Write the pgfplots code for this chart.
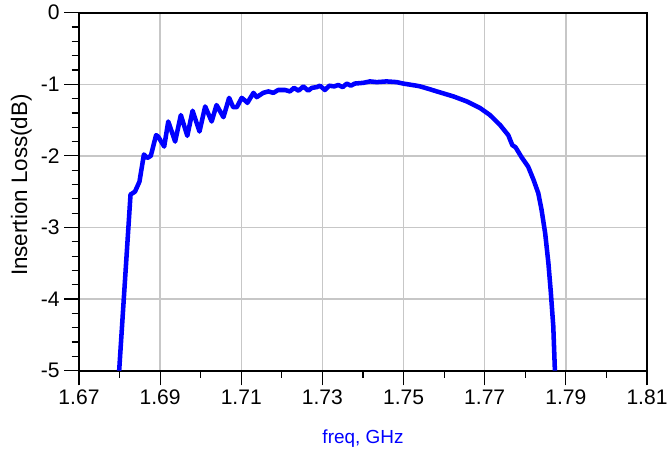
\documentclass[border=0pt]{standalone}
\usepackage{fontspec}
\setmainfont{Liberation Sans}
\usepackage{pgfplots}
\pgfplotsset{compat=1.18}
\begin{document}
\begin{tikzpicture}
\begin{axis}[
 name=ax,
 scale only axis,
 width=426pt, height=268.5pt,
 xmin=1.67, xmax=1.81, ymin=-5, ymax=0,
 xtick={1.67,1.69,1.71,1.73,1.75,1.77,1.79,1.81},
 xticklabels={1.67,1.69,1.71,1.73,1.75,1.77,1.79,1.81},
 ytick={-5,-4,-3,-2,-1,0},
 yticklabels={-5,-4,-3,-2,-1,0},
 minor x tick num=1, minor y tick num=4,
 xtick pos=bottom, ytick pos=left,
 tick align=outside,
 major tick length=11pt, minor tick length=5.5pt,
 every tick/.style={black, line width=0.9pt},
 grid=major,
 major grid style={color=black!22, line width=1pt},
 axis line style={black, line width=1.3pt},
 ticklabel style={font=\fontsize{15.8}{18}\selectfont},
 xlabel={freq, GHz},
 xlabel style={font=\fontsize{14.2}{16}\selectfont, text=blue, yshift=-12pt},
 ylabel={Insertion Loss(dB)},
 ylabel style={font=\fontsize{16.8}{19}\selectfont, xshift=5pt},
]
\addplot[color={rgb,255:red,0;green,0;blue,255}, line width=3.4pt, line join=round] coordinates {
(1.6799,-5.00) (1.6827,-2.54) (1.6838,-2.50) (1.6849,-2.36) (1.6860,-1.98)
(1.6868,-2.03) (1.6877,-2.00) (1.6890,-1.71) (1.6895,-1.73) (1.6910,-1.87)
(1.6920,-1.52) (1.6937,-1.80) (1.6951,-1.43) (1.6967,-1.72) (1.6980,-1.37)
(1.6997,-1.66) (1.7011,-1.31) (1.7027,-1.52) (1.7039,-1.29) (1.7056,-1.46)
(1.7070,-1.19) (1.7080,-1.32) (1.7089,-1.32) (1.7101,-1.19) (1.7112,-1.24)
(1.7115,-1.26) (1.7130,-1.12) (1.7138,-1.18) (1.7154,-1.12) (1.7167,-1.10)
(1.7179,-1.12) (1.7191,-1.08) (1.7208,-1.08) (1.7220,-1.10) (1.7230,-1.05)
(1.7241,-1.09) (1.7253,-1.03) (1.7265,-1.09) (1.7274,-1.05) (1.7286,-1.04)
(1.7294,-1.02) (1.7306,-1.08) (1.7317,-1.02) (1.7329,-1.03) (1.7339,-1.01)
(1.7350,-1.04) (1.7360,-0.99) (1.7370,-1.02) (1.7380,-0.99) (1.7401,-0.98)
(1.7417,-0.96) (1.7434,-0.97) (1.7458,-0.96) (1.7483,-0.97) (1.7499,-0.99)
(1.7532,-1.02) (1.7541,-1.03) (1.7565,-1.07) (1.7582,-1.10) (1.7623,-1.17)
(1.7656,-1.24) (1.7688,-1.33) (1.7713,-1.43) (1.7738,-1.57) (1.7758,-1.71)
(1.7768,-1.85) (1.7776,-1.88) (1.7791,-2.02) (1.7807,-2.15) (1.7820,-2.33)
(1.7832,-2.52) (1.7840,-2.75) (1.7849,-3.08) (1.7857,-3.50) (1.7863,-3.91)
(1.7869,-4.38) (1.7873,-5.00)
};
\end{axis}
\pgfresetboundingbox
\path[use as bounding box] ([xshift=-59.25pt,yshift=-63.75pt]ax.south west) rectangle ([xshift=15pt,yshift=9.5pt]ax.north east);
\end{tikzpicture}
\end{document}
